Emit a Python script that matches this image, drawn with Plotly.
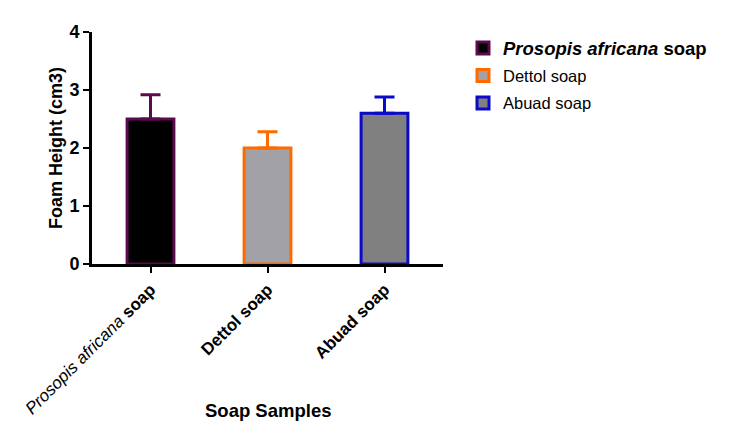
import plotly.graph_objects as go

samples = ["<i>Prosopis africana</i> <b>soap</b>", "<b>Dettol soap</b>", "<b>Abuad soap</b>"]
legend_names = ["<span style='font-size:18.5px'><b><i>Prosopis africana</i> soap</b></span>",
                "Dettol soap", "Abuad soap"]
foam_height = [2.5, 2.0, 2.6]
foam_err = [0.42, 0.28, 0.28]

fills = ["#000000", "#a2a2a6", "#808080"]
edges = ["#5c0a4e", "#ff6a00", "#0a0ac8"]

fig = go.Figure()
for i, (name, lbl, val, err, fc, ec) in enumerate(zip(legend_names, samples, foam_height, foam_err, fills, edges)):
    fig.add_trace(go.Bar(
        x=[lbl], y=[val], name=name, width=0.4, legendgroup=f"g{i}",
        marker=dict(color=fc, line=dict(color=ec, width=3)),
        error_y=dict(type="data", array=[err], arrayminus=[0], symmetric=False,
                     color=ec, thickness=3, width=10),
    ))

# page body adds an 8px offset, so margins are shifted by 8
fig.update_layout(
    width=732, height=441,
    margin=dict(l=84, r=297, t=24, b=185),
    paper_bgcolor="white", plot_bgcolor="white",
    barmode="overlay",
    font=dict(family="Arial, Liberation Sans", color="black", size=16),
    legend=dict(x=1.057, y=1.005, xanchor="left", yanchor="top",
                font=dict(size=16.5), itemwidth=30, tracegroupgap=3),
    showlegend=True,
    annotations=[dict(text="<b>Soap Samples</b>", x=0.5, y=-0.63, xref="paper", yref="paper",
                      xanchor="center", yanchor="middle", showarrow=False,
                      font=dict(size=18.5))],
)
fig.update_xaxes(
    range=[-0.5, 2.5], showline=True, linecolor="black", linewidth=3,
    ticks="outside", ticklen=6, tickwidth=2, tickcolor="black",
    tickangle=-45, tickfont=dict(size=17), automargin=False,
)
fig.update_yaxes(
    range=[0, 4], dtick=1, showline=True, linecolor="black", linewidth=3,
    ticks="outside", ticklen=6, tickwidth=2, tickcolor="black",
    showgrid=False, zeroline=False, automargin=False,
    tickfont=dict(size=18), tickprefix="<b>", ticksuffix="</b>",
    title=dict(text="<b>Foam Height (cm3)</b>", font=dict(size=18), standoff=3),
)

fig.write_html("out.html")
